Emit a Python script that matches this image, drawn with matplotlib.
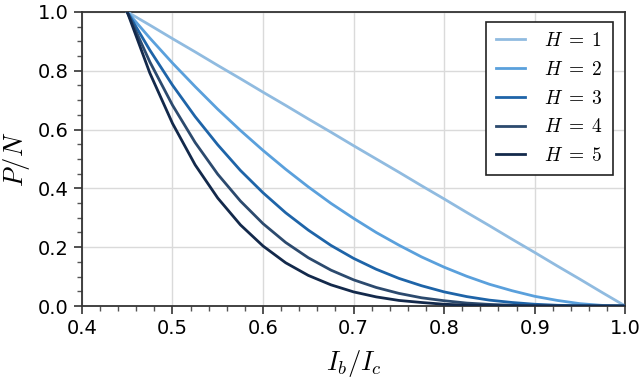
import numpy as np
from matplotlib import pyplot as plt
from matplotlib.ticker import MultipleLocator

# bias current ratio I_b/I_c, read at steps of 0.025
ratio = [0.45, 0.475, 0.5, 0.525, 0.55, 0.575, 0.6, 0.625, 0.65, 0.675, 0.7, 0.725,
         0.75, 0.775, 0.8, 0.825, 0.85, 0.875, 0.9, 0.925, 0.95, 0.975, 1.0]

# P/N for each H
h1 = [1.0, 0.955, 0.909, 0.864, 0.818, 0.773, 0.727, 0.682, 0.636, 0.591, 0.545, 0.5,
      0.455, 0.409, 0.364, 0.318, 0.273, 0.227, 0.182, 0.136, 0.091, 0.045, 0.0]
h2 = [1.0, 0.911, 0.826, 0.746, 0.669, 0.597, 0.529, 0.465, 0.405, 0.349, 0.298, 0.25,
      0.207, 0.167, 0.132, 0.101, 0.074, 0.052, 0.033, 0.019, 0.008, 0.002, 0.0]
h3 = [1.0, 0.870, 0.751, 0.644, 0.548, 0.461, 0.385, 0.317, 0.258, 0.206, 0.162, 0.125,
      0.094, 0.069, 0.048, 0.032, 0.020, 0.012, 0.006, 0.0025, 0.0008, 0.0001, 0.0]
h4 = [1.0, 0.830, 0.683, 0.556, 0.448, 0.357, 0.280, 0.216, 0.164, 0.122, 0.089, 0.063,
      0.043, 0.028, 0.018, 0.010, 0.0055, 0.0027, 0.0011, 0.0003, 0.0001, 0.0, 0.0]
h5 = [1.0, 0.792, 0.621, 0.480, 0.367, 0.276, 0.204, 0.147, 0.104, 0.072, 0.048, 0.031,
      0.019, 0.012, 0.006, 0.003, 0.0015, 0.0006, 0.0002, 0.0, 0.0, 0.0, 0.0]

series = [h1, h2, h3, h4, h5]
labels = [r"$H\;=\;1$", r"$H\;=\;2$", r"$H\;=\;3$", r"$H\;=\;4$", r"$H\;=\;5$"]
colors = ["#90bbe0", "#5aa0dc", "#1e64a8", "#2c4a6e", "#13294b"]

plt.rcParams['mathtext.fontset'] = 'cm'

fig = plt.figure(figsize=(6.4, 3.83), dpi=100)
ax = fig.add_axes([0.128, 0.201, 0.849, 0.768])

for ys, lab, c in zip(series, labels, colors):
    ax.plot(ratio, ys, color=c, lw=2, label=lab, zorder=3)

ax.set_xlim(0.4, 1.0)
ax.set_ylim(0.0, 1.0)
ax.xaxis.set_major_locator(MultipleLocator(0.1))
ax.xaxis.set_minor_locator(MultipleLocator(0.02))
ax.yaxis.set_major_locator(MultipleLocator(0.2))
ax.yaxis.set_minor_locator(MultipleLocator(0.05))
ax.grid(True, which='major', color='#dadada', lw=1)
ax.set_axisbelow(True)

for s in ax.spines.values():
    s.set_color('#333333')
    s.set_linewidth(1.3)
ax.tick_params(which='major', length=6, width=1.2, color='#333333', labelsize=14)
ax.tick_params(which='minor', length=3.5, width=1, color='#555555')

ax.set_xlabel("$I_b/I_c$", fontsize=19, labelpad=7)
ax.set_ylabel("$P/N$", fontsize=19, labelpad=4)

leg = ax.legend(loc='upper right', bbox_to_anchor=(0.977, 0.967), borderaxespad=0,
                fontsize=14, fancybox=False, framealpha=1, edgecolor='#222222',
                handlelength=1.5, handletextpad=1.0, borderpad=0.5, labelspacing=0.5)
leg.get_frame().set_linewidth(1.2)

fig.savefig("out.png", dpi=100)
